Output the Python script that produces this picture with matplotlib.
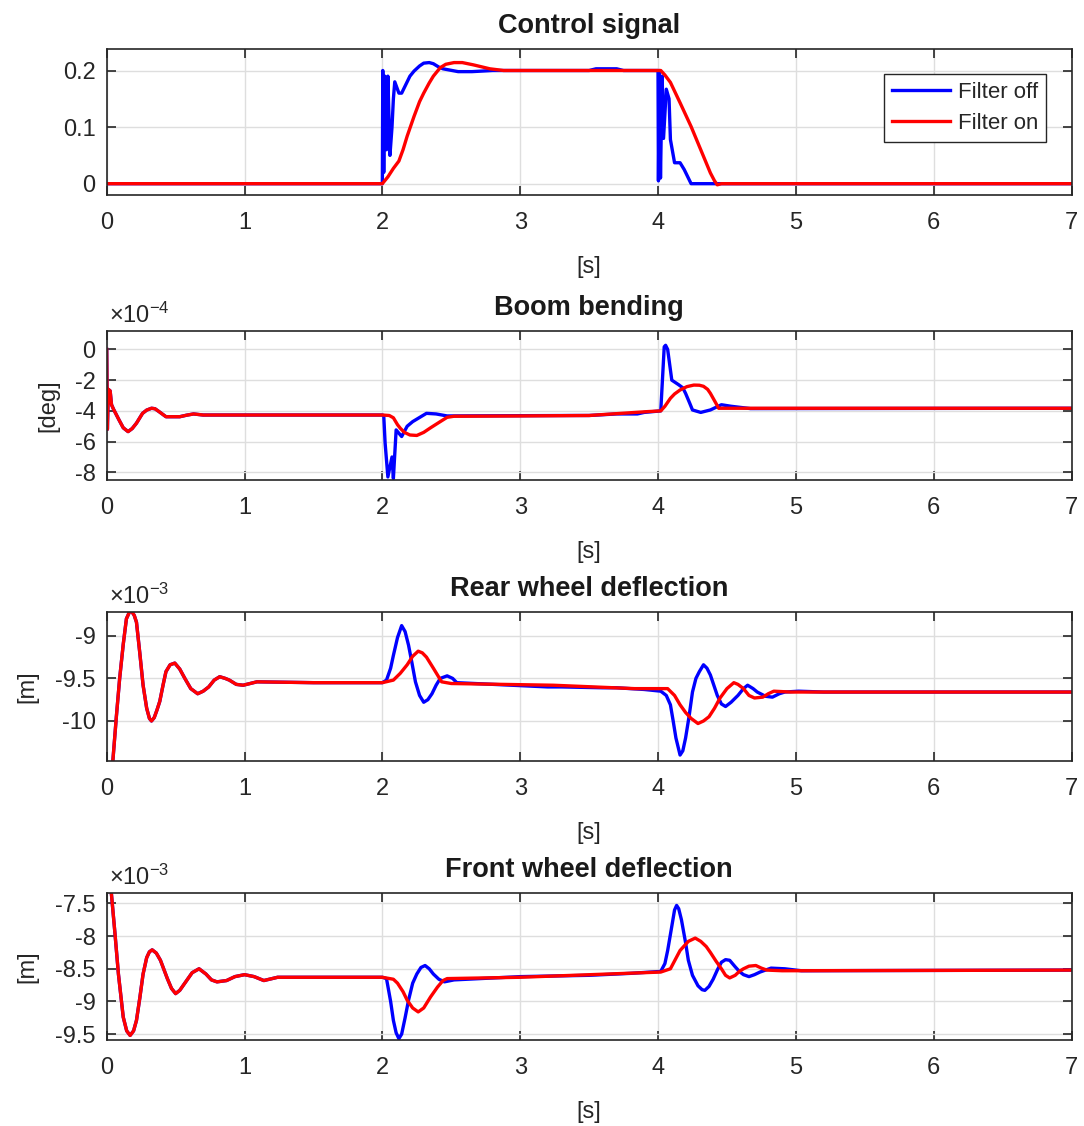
import matplotlib
matplotlib.use("Agg")
import matplotlib.pyplot as plt

plt.rcParams['font.family'] = ['Liberation Sans', 'DejaVu Sans']
plt.rcParams['mathtext.fontset'] = 'custom'
plt.rcParams['mathtext.rm'] = 'Liberation Sans'
plt.rcParams['axes.unicode_minus'] = False

# --- Control signal ---
t_ctrl_on = [0, 2.0, 2.04, 2.08, 2.12, 2.15, 2.18, 2.23, 2.27, 2.30, 2.34, 2.37, 2.42, 2.46,
             2.52, 2.58, 2.66, 2.78, 2.88, 4.02, 4.05, 4.09, 4.16, 4.24, 4.31, 4.38, 4.41,
             4.43, 4.46, 7.0]
u_on = [0, 0, 0.012, 0.027, 0.040, 0.060, 0.084, 0.119, 0.145, 0.160, 0.178, 0.190, 0.205,
        0.211, 0.214, 0.214, 0.210, 0.203, 0.200, 0.200, 0.192, 0.179, 0.143, 0.101, 0.060,
        0.019, 0.005, -0.002, 0, 0]
t_ctrl_off = [0, 2.0, 2.003, 2.01, 2.018, 2.03, 2.04, 2.055, 2.07, 2.08, 2.09, 2.12, 2.14, 2.17,
              2.20, 2.23, 2.27, 2.30, 2.34, 2.37, 2.41, 2.44, 2.55, 2.65, 2.8, 3.5, 3.55, 3.7,
              3.75, 4.0, 4.003, 4.01, 4.018, 4.03, 4.04, 4.06, 4.08, 4.09, 4.12, 4.16, 4.19,
              4.24, 7.0]
u_off = [0, 0, 0.2, 0.02, 0.19, 0.06, 0.19, 0.05, 0.10, 0.15, 0.18, 0.16, 0.16, 0.175,
         0.190, 0.199, 0.208, 0.213, 0.214, 0.212, 0.206, 0.203, 0.198, 0.198, 0.2, 0.2, 0.203,
         0.203, 0.2, 0.2, 0.005, 0.2, 0.01, 0.19, 0.08, 0.167, 0.15, 0.078, 0.037, 0.037,
         0.025, 0, 0]

# --- Boom bending (x1e-4 deg) ---
t_boom_start = [0, 0.005, 0.012, 0.025, 0.035, 0.05, 0.09, 0.12, 0.155, 0.185, 0.216, 0.26,
                0.29, 0.325, 0.35, 0.38, 0.43, 0.53, 0.58, 0.63, 0.70, 2.0]
b_start = [0, -5.2, -2.6, -2.7, -3.6, -3.9, -4.6, -5.1, -5.35, -5.15, -4.8, -4.16,
           -3.95, -3.83, -3.86, -4.05, -4.38, -4.38, -4.28, -4.2, -4.27, -4.27]
t_boom_on = [2.05, 2.08, 2.11, 2.13, 2.16, 2.20, 2.25, 2.30, 2.35, 2.42, 2.47, 2.52, 3.0, 3.5,
             3.92, 4.02, 4.05, 4.09, 4.12, 4.16, 4.21, 4.26, 4.30, 4.33, 4.36, 4.38, 4.42, 4.44,
             7.0]
b_on = [-4.3, -4.45, -4.9, -5.13, -5.4, -5.57, -5.6, -5.4, -5.1, -4.7, -4.42, -4.35, -4.33,
        -4.3, -4.05, -4.0, -3.7, -3.18, -2.9, -2.64, -2.42, -2.32, -2.33, -2.4, -2.6, -2.86,
        -3.5, -3.83, -3.83]
t_boom_off = [2.01, 2.02, 2.04, 2.07, 2.08, 2.10, 2.14, 2.18, 2.22, 2.32, 2.39, 2.47, 3.4, 3.5,
              3.7, 3.85, 3.9, 4.02, 4.035, 4.045, 4.055, 4.07, 4.10, 4.15, 4.18, 4.20, 4.23,
              4.25, 4.31, 4.38, 4.46, 4.53, 4.67, 7.0]
b_off = [-4.3, -6.1, -8.3, -7.0, -8.4, -5.24, -5.67, -5.0, -4.7, -4.16, -4.2, -4.33, -4.3, -4.3,
         -4.2, -4.2, -4.1, -4.0, -1.5, 0.17, 0.27, 0.0, -2.0, -2.3, -2.5, -2.86, -3.5,
         -3.94, -4.1, -3.94, -3.6, -3.7, -3.85, -3.83]

# --- Rear wheel deflection (x1e-3 m) ---
t_rear_start = [0, 0.046, 0.07, 0.094, 0.12, 0.143, 0.165, 0.18, 0.2, 0.216, 0.24, 0.264,
                0.29, 0.31, 0.325, 0.345, 0.365, 0.385, 0.41, 0.43, 0.46, 0.494, 0.53, 0.567,
                0.61, 0.66, 0.70, 0.74, 0.78, 0.82, 0.86, 0.89, 0.94, 0.99, 1.09, 1.5, 2.0]
r_start = [-11.3, -10.44, -9.95, -9.5, -9.1, -8.8, -8.72, -8.71, -8.76, -8.84, -9.2, -9.58,
           -9.85, -9.97, -10.0, -9.96, -9.87, -9.77, -9.57, -9.42, -9.34, -9.32, -9.39, -9.5,
           -9.62, -9.68, -9.65, -9.6, -9.52, -9.48, -9.5, -9.52, -9.57, -9.58, -9.54, -9.55,
           -9.55]
t_rear_on = [2.08, 2.13, 2.18, 2.22, 2.26, 2.29, 2.32, 2.37, 2.43, 2.5, 3.24, 3.83, 4.07, 4.12,
             4.16, 4.20, 4.24, 4.29, 4.33, 4.37, 4.41, 4.45, 4.50, 4.55, 4.58, 4.62, 4.66,
             4.70, 4.76, 4.80, 4.84, 4.96, 7.0]
r_on = [-9.52, -9.44, -9.34, -9.24, -9.18, -9.2, -9.25, -9.38, -9.54, -9.56, -9.58, -9.62,
        -9.62, -9.7, -9.81, -9.9, -9.97, -10.03, -10.0, -9.95, -9.85, -9.73, -9.62, -9.55,
        -9.57, -9.62, -9.7, -9.73, -9.72, -9.68, -9.65, -9.66, -9.66]
t_rear_off = [2.03, 2.06, 2.08, 2.11, 2.14, 2.165, 2.19, 2.215, 2.24, 2.27, 2.30, 2.33, 2.36,
              2.39, 2.42, 2.47, 2.51, 2.54, 3.2, 3.3, 3.6, 3.7, 3.9, 4.02, 4.06, 4.09, 4.11,
              4.13, 4.16, 4.18, 4.20, 4.225, 4.25, 4.275, 4.30, 4.33, 4.355, 4.38, 4.405,
              4.43, 4.46, 4.49, 4.53, 4.58, 4.62, 4.65, 4.69, 4.72, 4.78, 4.83, 4.88, 4.92,
              5.02, 5.2, 7.0]
r_off = [-9.52, -9.38, -9.23, -9.02, -8.88, -8.95, -9.11, -9.32, -9.54, -9.7, -9.78, -9.75,
         -9.68, -9.58, -9.5, -9.47, -9.5, -9.55, -9.6, -9.6, -9.61, -9.61, -9.63, -9.65, -9.7,
         -9.81, -10.0, -10.2, -10.4, -10.35, -10.2, -9.95, -9.66, -9.5, -9.42, -9.34, -9.38,
         -9.46, -9.58, -9.7, -9.8, -9.83, -9.78, -9.7, -9.62, -9.58, -9.62, -9.66, -9.71,
         -9.72, -9.68, -9.66, -9.65, -9.66, -9.66]

# --- Front wheel deflection (x1e-3 m) ---
t_front_start = [0, 0.034, 0.06, 0.085, 0.12, 0.145, 0.17, 0.195, 0.216, 0.24, 0.264, 0.29,
                 0.31, 0.33, 0.36, 0.39, 0.44, 0.47, 0.50, 0.53, 0.58, 0.62, 0.67, 0.72, 0.76,
                 0.80, 0.87, 0.93, 1.0, 1.07, 1.14, 1.24, 2.0]
f_start = [-6.6, -7.35, -7.96, -8.58, -9.24, -9.45, -9.52, -9.45, -9.29, -8.95, -8.58, -8.33,
           -8.24, -8.21, -8.26, -8.37, -8.65, -8.8, -8.88, -8.83, -8.68, -8.56, -8.5, -8.58,
           -8.67, -8.7, -8.68, -8.62, -8.59, -8.62, -8.68, -8.63, -8.63]
t_front_on = [2.08, 2.11, 2.15, 2.18, 2.22, 2.26, 2.30, 2.35, 2.40, 2.44, 2.47, 3.0, 4.02, 4.09,
              4.12, 4.16, 4.22, 4.27, 4.31, 4.35, 4.38, 4.42, 4.46, 4.49, 4.52, 4.56, 4.59,
              4.62, 4.66, 4.71, 4.75, 4.79, 4.9, 7.0]
f_on = [-8.66, -8.72, -8.85, -8.98, -9.1, -9.16, -9.1, -8.93, -8.78, -8.68, -8.65, -8.63,
        -8.55, -8.5, -8.38, -8.22, -8.08, -8.03, -8.08, -8.16, -8.25, -8.38, -8.5, -8.6,
        -8.64, -8.6, -8.54, -8.5, -8.46, -8.45, -8.49, -8.52, -8.53, -8.52]
t_front_off = [2.03, 2.06, 2.08, 2.10, 2.12, 2.14, 2.165, 2.19, 2.22, 2.25, 2.28, 2.31, 2.34,
               2.37, 2.41, 2.45, 2.52, 3.0, 3.5, 3.8, 4.02, 4.05, 4.07, 4.10, 4.12, 4.135,
               4.15, 4.17, 4.20, 4.22, 4.25, 4.29, 4.32, 4.34, 4.37, 4.40, 4.43, 4.46, 4.49,
               4.52, 4.56, 4.59, 4.62, 4.66, 4.70, 4.74, 4.82, 4.92, 5.04, 7.0]
f_off = [-8.65, -9.0, -9.29, -9.48, -9.57, -9.5, -9.25, -8.98, -8.72, -8.58, -8.48, -8.45,
         -8.5, -8.58, -8.66, -8.7, -8.67, -8.62, -8.6, -8.57, -8.54, -8.42, -8.22, -7.85,
         -7.6, -7.53, -7.58, -7.75, -8.1, -8.37, -8.6, -8.76, -8.82, -8.83, -8.77, -8.66,
         -8.52, -8.4, -8.36, -8.37, -8.47, -8.54, -8.59, -8.62, -8.59, -8.55, -8.49, -8.5,
         -8.53, -8.52]

panels = [
    dict(title='Control signal', ylabel=None, exp=None,
         off=(t_ctrl_off, u_off), on=(t_ctrl_on, u_on),
         ylim=(-0.02, 0.238), yticks=[0, 0.1, 0.2], yticklabels=['0', '0.1', '0.2']),
    dict(title='Boom bending', ylabel='[deg]', exp='-4',
         off=(t_boom_start + t_boom_off, b_start + b_off),
         on=(t_boom_start + t_boom_on, b_start + b_on),
         ylim=(-8.5, 1.2), yticks=[0, -2, -4, -6, -8], yticklabels=['0', '-2', '-4', '-6', '-8']),
    dict(title='Rear wheel deflection', ylabel='[m]', exp='-3',
         off=(t_rear_start + t_rear_off, r_start + r_off),
         on=(t_rear_start + t_rear_on, r_start + r_on),
         ylim=(-10.47, -8.72), yticks=[-9, -9.5, -10], yticklabels=['-9', '-9.5', '-10']),
    dict(title='Front wheel deflection', ylabel='[m]', exp='-3',
         off=(t_front_start + t_front_off, f_start + f_off),
         on=(t_front_start + t_front_on, f_start + f_on),
         ylim=(-9.59, -7.34), yticks=[-7.5, -8, -8.5, -9, -9.5],
         yticklabels=['-7.5', '-8', '-8.5', '-9', '-9.5']),
]

W, H = 1084, 1126
fig = plt.figure(figsize=(W / 100, H / 100), dpi=100)

# axes boxes in pixels: (top, bottom)
boxes = [(49, 195), (331, 480), (612, 761), (893, 1040)]
left_px, right_px = 106.7, 1071.5
ylabel_x = [None, 48, 27.5, 27.5]

dark = '0.15'
for i, (p, (top, bot)) in enumerate(zip(panels, boxes)):
    ax = fig.add_axes([left_px / W, 1 - bot / H, (right_px - left_px) / W, (bot - top) / H])
    ax.plot(*p['off'], color='#0000ff', lw=2.4, label='Filter off')
    ax.plot(*p['on'], color='#ff0000', lw=2.4, label='Filter on')
    ax.set_xlim(0, 7)
    ax.set_ylim(*p['ylim'])
    ax.set_xticks(range(8))
    ax.set_yticks(p['yticks'])
    ax.set_yticklabels(p['yticklabels'])
    ax.grid(True, color='#dedede', lw=1.0)
    ax.set_axisbelow(True)
    for s in ax.spines.values():
        s.set_color(dark)
        s.set_linewidth(1.2)
    ax.tick_params(direction='in', top=True, right=True, length=6.5, width=1.2,
                   colors=dark, labelsize=17)
    ax.tick_params(axis='x', pad=12.5)
    ax.tick_params(axis='y', pad=8)
    ax.set_title(p['title'], fontsize=19.5, fontweight='bold', color='0.1', pad=11.5)
    hpx = bot - top
    ax.set_xlabel('[s]', fontsize=17, color=dark)
    ax.xaxis.set_label_coords(0.5, -72 / hpx)
    ax.xaxis.label.set_va('center')
    if p['ylabel']:
        ax.set_ylabel(p['ylabel'], fontsize=17, color=dark)
        ax.yaxis.set_label_coords((ylabel_x[i] - left_px) / (right_px - left_px), 0.5)
        ax.yaxis.label.set_va('center')
    if p['exp']:
        ax.annotate(r'$\mathregular{\times10^{%s}}$' % p['exp'], xy=(0, 1),
                    xycoords='axes fraction', xytext=(2, 6), textcoords='offset points',
                    va='baseline', ha='left', fontsize=17, color=dark)
    if i == 0:
        leg = ax.legend(loc='upper right', bbox_to_anchor=(0.974, 0.829), borderaxespad=0,
                        fontsize=16, fancybox=False, framealpha=1, edgecolor=dark,
                        handlelength=2.65, handletextpad=0.35, borderpad=0.35,
                        labelspacing=0.45)
        leg.get_frame().set_linewidth(1.0)
        for txt in leg.get_texts():
            txt.set_color(dark)

fig.savefig('out.png', dpi=100)
